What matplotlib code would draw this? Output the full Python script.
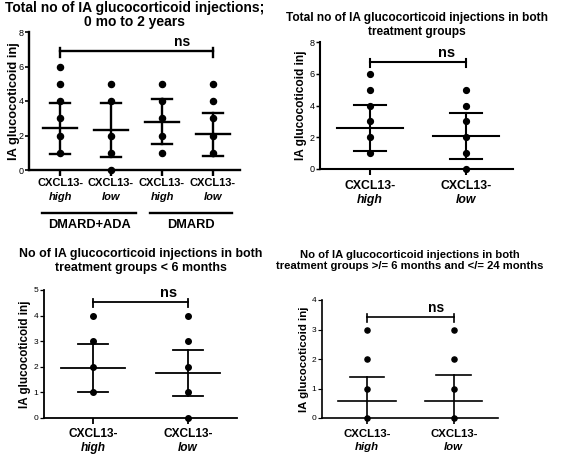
"""Dot plots of IA glucocorticoid injections by CXCL13 group (mean +/- SD)."""
import matplotlib
matplotlib.use("Agg")
import matplotlib.pyplot as plt
import matplotlib.transforms as mtransforms

plt.rcParams["font.family"] = ["Liberation Sans", "DejaVu Sans"]

W, H = 561, 455

# ---- data ----
groups_2 = ["high", "low"]

p1_groups = ["high", "low", "high", "low"]
p1_points = [[6, 5, 4, 3, 2, 1], [5, 4, 2, 1, 0], [5, 4, 3, 2, 1], [5, 4, 3, 2, 1]]
p1_mean = [2.42, 2.33, 2.81, 2.07]
p1_sd = [1.47, 1.55, 1.33, 1.23]
p1_treat = ["DMARD+ADA", "DMARD"]

p2_points = [[6, 5, 4, 3, 2, 1], [5, 4, 3, 2, 1, 0]]
p2_mean = [2.58, 2.06]
p2_sd = [1.44, 1.45]

p3_points = [[4, 3, 2, 1], [4, 3, 2, 1, 0]]
p3_mean = [1.96, 1.74]
p3_sd = [0.95, 0.90]

p4_points = [[3, 2, 1, 0], [3, 2, 1, 0]]
p4_mean = [0.59, 0.57]
p4_sd = [0.81, 0.88]

ylabel = "IA glucocoticoid inj"


def px_axes(fig, left, right, top, bottom):
    return fig.add_axes([left / W, 1 - bottom / H, (right - left) / W, (bottom - top) / H])


def dotplot(ax, points, means, sds, ymax, yticks, xlim, lw, ms, mean_hw, cap_hw,
            ns_y, tick_fs, label_fs, ylab_fs, labelpad=3):
    xs = range(len(points))
    for x, pts, m, s in zip(xs, points, means, sds):
        ax.plot([x] * len(pts), pts, "o", color="black", ms=ms, zorder=3, clip_on=False)
        ax.plot([x, x], [m - s, m + s], color="black", lw=lw, zorder=2)
        ax.plot([x - cap_hw, x + cap_hw], [m + s, m + s], color="black", lw=lw, zorder=2)
        ax.plot([x - cap_hw, x + cap_hw], [m - s, m - s], color="black", lw=lw, zorder=2)
        ax.plot([x - mean_hw, x + mean_hw], [m, m], color="black", lw=lw, zorder=2)
    # significance bracket
    x0, x1 = 0, len(points) - 1
    dy = ymax * 0.025
    ax.plot([x0, x1], [ns_y, ns_y], color="black", lw=lw, clip_on=False)
    for xe in (x0, x1):
        ax.plot([xe, xe], [ns_y - dy * 1.6, ns_y + dy], color="black", lw=lw, clip_on=False)
    ax.text(x0 + 0.8 * (x1 - x0), ns_y + dy * 0.6, "ns", ha="center", va="bottom",
            fontsize=label_fs + 2, fontweight="bold")

    ax.set_xlim(*xlim)
    ax.set_ylim(0, ymax)
    ax.set_yticks(yticks)
    ax.set_xticks(list(xs))
    ax.set_xticklabels([])
    for sp in ("top", "right"):
        ax.spines[sp].set_visible(False)
    for sp in ("left", "bottom"):
        ax.spines[sp].set_linewidth(lw)
    ax.tick_params(axis="y", length=3, width=lw * 0.7, labelsize=tick_fs, pad=1)
    ax.tick_params(axis="x", length=4, width=lw)
    ax.set_ylabel(ylabel, fontsize=ylab_fs, fontweight="bold", labelpad=labelpad)


def group_labels(ax, labels, fs, y1=-0.09, y2=-0.19):
    trans = mtransforms.blended_transform_factory(ax.transData, ax.transAxes)
    for x, g in enumerate(labels):
        ax.text(x, y1, "CXCL13-", transform=trans, ha="center", va="center",
                fontsize=fs, fontweight="bold")
        ax.text(x, y2, g, transform=trans, ha="center", va="center",
                fontsize=fs, fontweight="bold", style="italic")


fig = plt.figure(figsize=(W / 100, H / 100), dpi=100)

# panel 1 (top left)
ax1 = px_axes(fig, 29, 240, 32, 170)
dotplot(ax1, p1_points, p1_mean, p1_sd, 8, [0, 2, 4, 6, 8], (-0.61, 3.53),
        lw=1.7, ms=4.4, mean_hw=0.33, cap_hw=0.2, ns_y=6.88,
        tick_fs=6.5, label_fs=8, ylab_fs=9.3, labelpad=-1)
group_labels(ax1, p1_groups, 8, y1=-0.095, y2=-0.195)
trans1 = mtransforms.blended_transform_factory(ax1.transData, ax1.transAxes)
for (a, b), name in zip([(-0.35, 1.49), (1.76, 3.37)], p1_treat):
    ax1.plot([a, b], [-0.31, -0.31], color="black", lw=1.7, transform=trans1, clip_on=False)
    ax1.text((a + b) / 2, -0.40, name, transform=trans1, ha="center", va="center",
             fontsize=9.2, fontweight="bold")
ax1.set_title("Total no of IA glucocorticoid injections;\n0 mo to 2 years",
              fontsize=10, fontweight="bold", pad=4, linespacing=1.05)

# panel 2 (top right)
ax2 = px_axes(fig, 320, 513, 42, 169)
dotplot(ax2, p2_points, p2_mean, p2_sd, 8, [0, 2, 4, 6, 8], (-0.52, 1.49),
        lw=1.5, ms=4.2, mean_hw=0.34, cap_hw=0.17, ns_y=6.74,
        tick_fs=6.5, label_fs=8.5, ylab_fs=8.6, labelpad=2)
group_labels(ax2, groups_2, 8.8, y1=-0.135, y2=-0.245)
ax2.set_title("Total no of IA glucocorticoid injections in both\ntreatment groups",
              fontsize=8.6, fontweight="bold", pad=5, linespacing=1.2)

# panel 3 (bottom left)
ax3 = px_axes(fig, 44, 237, 290, 418)
dotplot(ax3, p3_points, p3_mean, p3_sd, 5, [0, 1, 2, 3, 4, 5], (-0.52, 1.52),
        lw=1.3, ms=4.0, mean_hw=0.34, cap_hw=0.16, ns_y=4.52,
        tick_fs=6, label_fs=8.5, ylab_fs=8.4, labelpad=2)
group_labels(ax3, groups_2, 8.6, y1=-0.125, y2=-0.235)
ax3.set_title("No of IA glucocorticoid injections in both\ntreatment groups < 6 months",
              fontsize=8.9, fontweight="bold", pad=14, linespacing=1.15)

# panel 4 (bottom right)
ax4 = px_axes(fig, 322, 498, 300, 418)
dotplot(ax4, p4_points, p4_mean, p4_sd, 4, [0, 1, 2, 3, 4], (-0.52, 1.51),
        lw=1.2, ms=3.7, mean_hw=0.33, cap_hw=0.2, ns_y=3.43,
        tick_fs=6, label_fs=8, ylab_fs=8.2, labelpad=2)
group_labels(ax4, groups_2, 8.2, y1=-0.135, y2=-0.25)
ax4.set_title("No of IA glucocorticoid injections in both\ntreatment groups >/= 6 months and </= 24 months",
              fontsize=8.1, fontweight="bold", pad=22, linespacing=1.2)

fig.savefig("out.png", dpi=100)
